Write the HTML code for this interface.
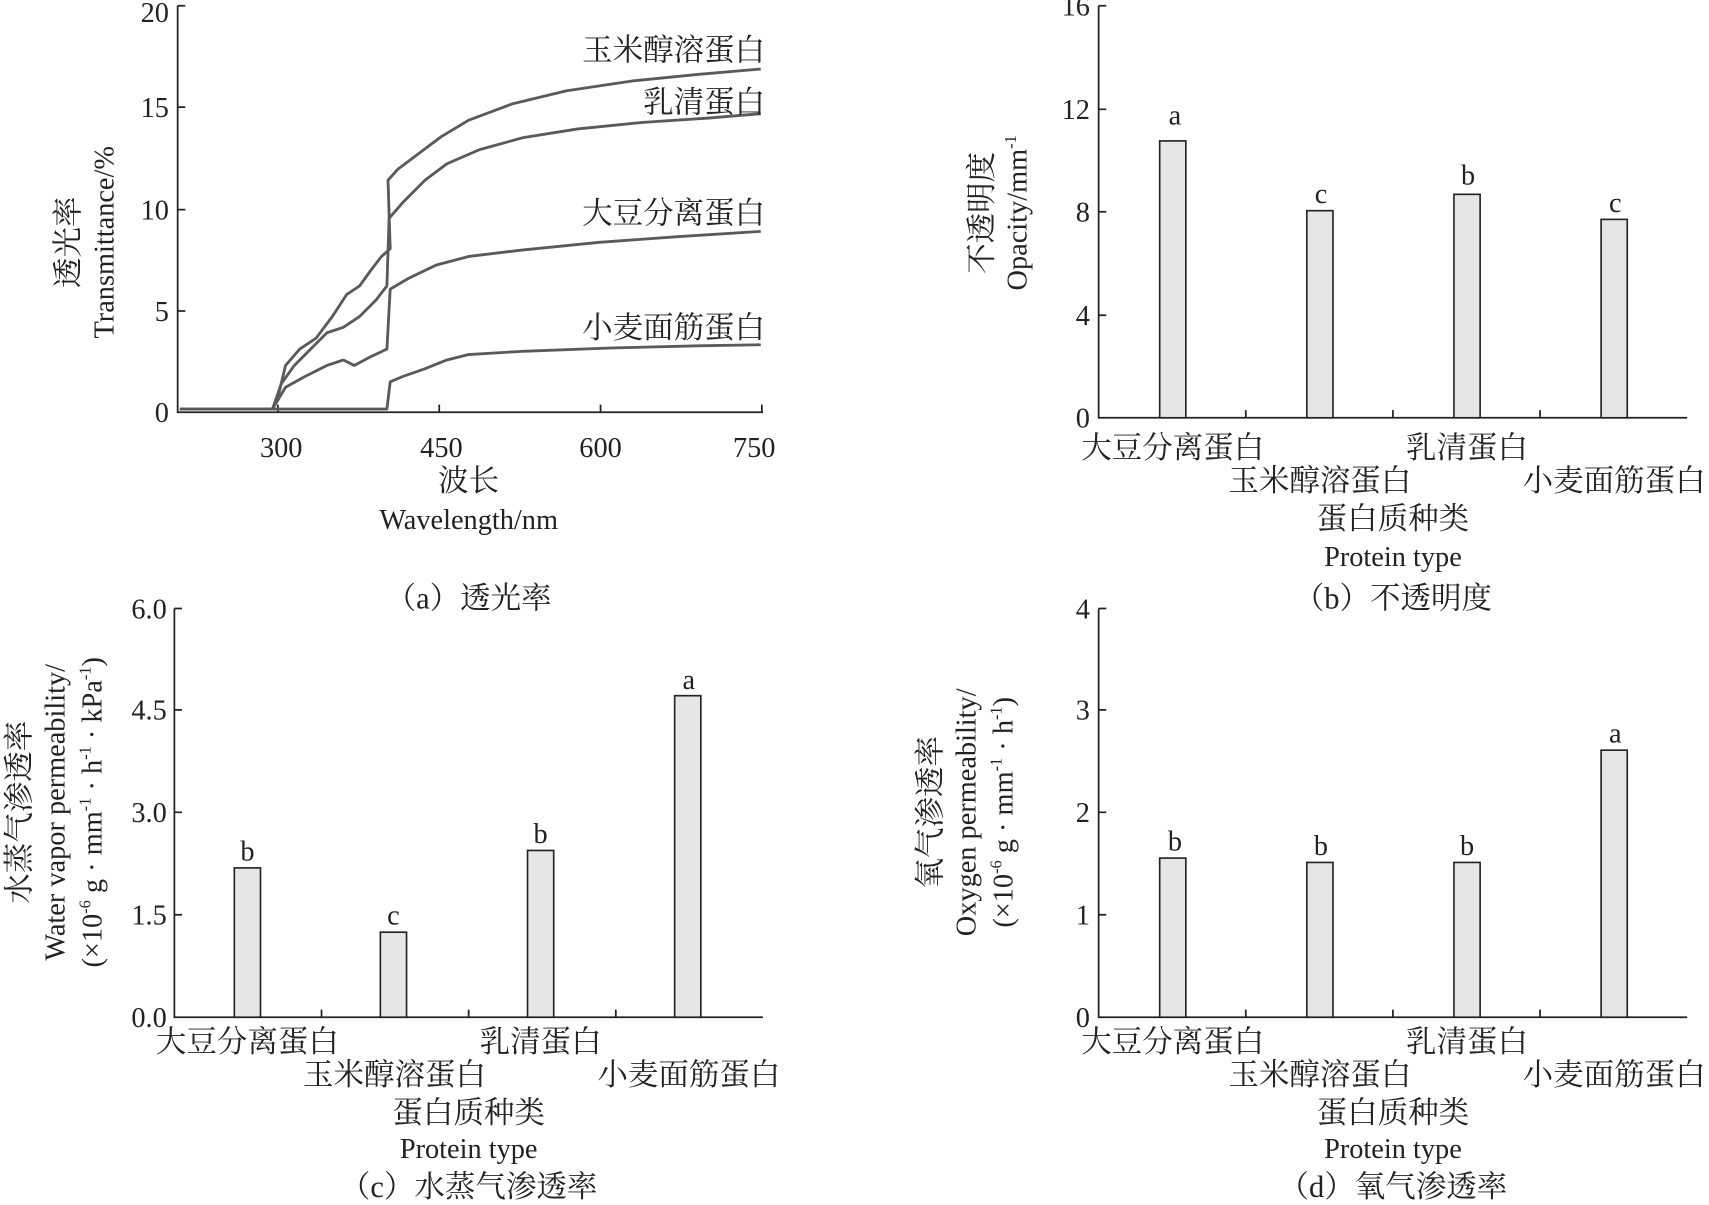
<!DOCTYPE html>
<html><head><meta charset="utf-8"><style>
html,body{margin:0;padding:0;background:#fff}
svg{display:block}
text{font-family:"Liberation Serif","Noto Serif CJK SC",serif;fill:#222}
.t{font-size:26px}
.c{font-size:28px}
</style></head><body>
<svg width="1709" height="1205" viewBox="0 0 1568 1105" xmlns="http://www.w3.org/2000/svg">
<g stroke="#222" stroke-width="1.6" fill="none">
<path d="M163,5 V378 H700"/>
<path d="M163,5 h7 M163,98 h7 M163,192 h7 M163,285 h7 M255,378 v-7 M403,378 v-7 M551,378 v-7 M699,378 v-7"/>
<path d="M1008,5 V383 H1548"/>
<path d="M1008,5 h7 M1008,100 h7 M1008,194 h7 M1008,289 h7 M1143,383 v-7 M1278,383 v-7 M1413,383 v-7"/>
<path d="M160,558 V933 H700"/>
<path d="M160,558 h7 M160,651 h7 M160,745 h7 M160,839 h7 M295,933 v-7 M430,933 v-7 M565,933 v-7"/>
<path d="M1008,558 V933 H1548"/>
<path d="M1008,558 h7 M1008,651 h7 M1008,745 h7 M1008,839 h7 M1143,933 v-7 M1278,933 v-7 M1413,933 v-7"/>
</g>
<g stroke="#5a5a5a" stroke-width="2.6" fill="none" stroke-linejoin="round">
<path d="M165,375 L250,375 L256,360 L262,335 L275,320 L290,310 L305,290 L318,270 L330,262 L340,248 L350,235 L358,228 L356,165 L365,155 L385,140 L405,125 L430,110 L470,95 L520,83 L580,74 L640,68 L698,63"/>
<path d="M250,375 L258,352 L270,335 L285,320 L300,305 L315,300 L330,290 L345,275 L355,262 L357,200 L370,185 L390,165 L410,150 L440,137 L480,126 L530,118 L590,112 L650,108 L698,104"/>
<path d="M250,375 L262,355 L280,345 L300,335 L315,330 L325,335 L340,327 L355,320 L358,265 L375,255 L400,243 L430,235 L480,229 L550,222 L620,217 L698,212"/>
<path d="M165,375 L355,375 L358,350 L370,345 L390,338 L410,330 L430,325 L480,322 L560,319 L640,317 L698,316"/>
</g>
<g class="c" text-anchor="end">
<text x="702" y="55">玉米醇溶蛋白</text>
<text x="702" y="103">乳清蛋白</text>
<text x="702" y="205">大豆分离蛋白</text>
<text x="702" y="310">小麦面筋蛋白</text>
</g>
<g class="t" text-anchor="end">
<text x="155" y="20">20</text><text x="155" y="107">15</text><text x="155" y="201">10</text><text x="155" y="294">5</text><text x="155" y="387">0</text>
</g>
<g class="t" text-anchor="middle">
<text x="258" y="419">300</text><text x="405" y="419">450</text><text x="551" y="419">600</text><text x="692" y="419">750</text>
<text x="430" y="450" class="c">波长</text>
<text x="430" y="485">Wavelength/nm</text>
<text x="430" y="558" class="c">（a）透光率</text>
</g>
<text class="c" transform="translate(72,222) rotate(-90)" text-anchor="middle">透光率</text>
<text class="t" transform="translate(104,222) rotate(-90)" text-anchor="middle">Transmittance/%</text>

<g class="t" text-anchor="end">
<text x="1000" y="14">16</text><text x="1000" y="109">12</text><text x="1000" y="203">8</text><text x="1000" y="298">4</text><text x="1000" y="392">0</text>
</g>
<g fill="#e6e6e6" stroke="#222" stroke-width="1.5">
<rect x="1064" y="129" width="24" height="254"/>
<rect x="1199" y="193" width="24" height="190"/>
<rect x="1334" y="178" width="24" height="205"/>
<rect x="1469" y="201" width="24" height="182"/>
</g>
<g class="t" text-anchor="middle">
<text x="1078" y="114">a</text><text x="1212" y="186">c</text><text x="1347" y="169">b</text><text x="1482" y="194">c</text>
</g>
<g class="c" text-anchor="middle">
<text x="1076" y="420">大豆分离蛋白</text><text x="1211" y="450">玉米醇溶蛋白</text>
<text x="1346" y="420">乳清蛋白</text><text x="1481" y="450">小麦面筋蛋白</text>
<text x="1278" y="485">蛋白质种类</text>
<text x="1278" y="519" class="t">Protein type</text>
<text x="1278" y="558">（b）不透明度</text>
</g>
<text class="c" transform="translate(910,195) rotate(-90)" text-anchor="middle">不透明度</text>
<text class="t" transform="translate(942,195) rotate(-90)" text-anchor="middle">Opacity/mm<tspan dy="-10" font-size="15">-1</tspan></text>

<g class="t" text-anchor="end">
<text x="153" y="567">6.0</text><text x="153" y="660">4.5</text><text x="153" y="754">3.0</text><text x="153" y="848">1.5</text><text x="153" y="942">0.0</text>
</g>
<g fill="#e6e6e6" stroke="#222" stroke-width="1.5">
<rect x="215" y="796" width="24" height="137"/>
<rect x="349" y="855" width="24" height="78"/>
<rect x="484" y="780" width="24" height="153"/>
<rect x="619" y="638" width="24" height="295"/>
</g>
<g class="t" text-anchor="middle">
<text x="227" y="789">b</text><text x="361" y="848">c</text><text x="496" y="773">b</text><text x="632" y="632">a</text>
</g>
<g class="c" text-anchor="middle">
<text x="227" y="965">大豆分离蛋白</text><text x="362" y="995">玉米醇溶蛋白</text>
<text x="496" y="965">乳清蛋白</text><text x="632" y="995">小麦面筋蛋白</text>
<text x="430" y="1030">蛋白质种类</text>
<text x="430" y="1062" class="t">Protein type</text>
<text x="430" y="1098">（c）水蒸气渗透率</text>
</g>
<text class="c" transform="translate(27,745) rotate(-90)" text-anchor="middle">水蒸气渗透率</text>
<text class="t" transform="translate(59,745) rotate(-90)" text-anchor="middle">Water vapor permeability/</text>
<text class="t" transform="translate(93,745) rotate(-90)" text-anchor="middle">(×10<tspan dy="-10" font-size="15">-6</tspan><tspan dy="10"> g · mm</tspan><tspan dy="-10" font-size="15">-1</tspan><tspan dy="10"> · h</tspan><tspan dy="-10" font-size="15">-1</tspan><tspan dy="10"> · kPa</tspan><tspan dy="-10" font-size="15">-1</tspan><tspan dy="10">)</tspan></text>

<g class="t" text-anchor="end">
<text x="1000" y="567">4</text><text x="1000" y="660">3</text><text x="1000" y="754">2</text><text x="1000" y="848">1</text><text x="1000" y="942">0</text>
</g>
<g fill="#e6e6e6" stroke="#222" stroke-width="1.5">
<rect x="1064" y="787" width="24" height="146"/>
<rect x="1199" y="791" width="24" height="142"/>
<rect x="1334" y="791" width="24" height="142"/>
<rect x="1469" y="688" width="24" height="245"/>
</g>
<g class="t" text-anchor="middle">
<text x="1078" y="780">b</text><text x="1212" y="784">b</text><text x="1346" y="784">b</text><text x="1482" y="681">a</text>
</g>
<g class="c" text-anchor="middle">
<text x="1076" y="965">大豆分离蛋白</text><text x="1211" y="995">玉米醇溶蛋白</text>
<text x="1346" y="965">乳清蛋白</text><text x="1481" y="995">小麦面筋蛋白</text>
<text x="1278" y="1030">蛋白质种类</text>
<text x="1278" y="1062" class="t">Protein type</text>
<text x="1278" y="1098">（d）氧气渗透率</text>
</g>
<text class="c" transform="translate(863,745) rotate(-90)" text-anchor="middle">氧气渗透率</text>
<text class="t" transform="translate(895,745) rotate(-90)" text-anchor="middle">Oxygen permeability/</text>
<text class="t" transform="translate(929,745) rotate(-90)" text-anchor="middle">(×10<tspan dy="-10" font-size="15">-6</tspan><tspan dy="10"> g · mm</tspan><tspan dy="-10" font-size="15">-1</tspan><tspan dy="10"> · h</tspan><tspan dy="-10" font-size="15">-1</tspan><tspan dy="10">)</tspan></text>
</svg>
</body></html>
